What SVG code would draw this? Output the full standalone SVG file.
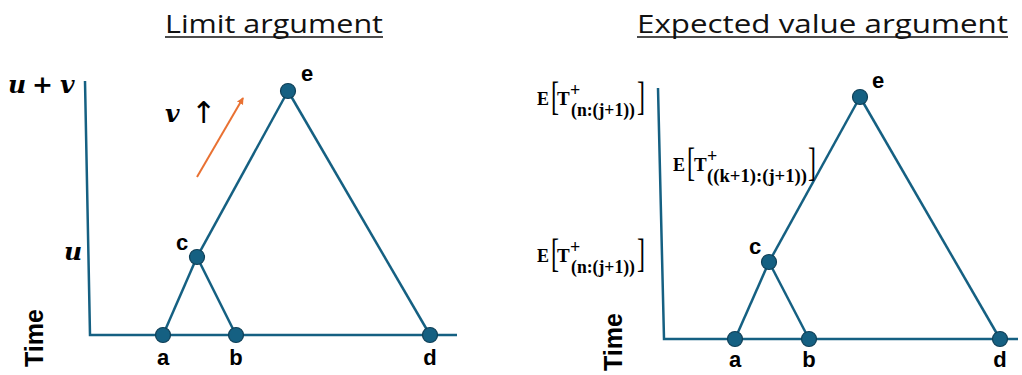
<svg xmlns="http://www.w3.org/2000/svg" width="1022" height="375" viewBox="0 0 1022 375">
  <style>
    .title { font-family: "Open Sans", "Liberation Sans", sans-serif; font-size: 26px; fill: #111; }
    .ul { stroke: #111; stroke-width: 1.5; }
    .axis { stroke: #156082; stroke-width: 2.5; fill: none; }
    .edge { stroke: #156082; stroke-width: 2.5; fill: none; }
    .node { fill: #156082; stroke: #0E3F57; stroke-width: 1.2; }
    .lbl { font-family: "Liberation Sans", Arial, sans-serif; font-weight: bold; font-size: 22px; fill: #000; text-anchor: middle; }
    .time { font-family: "Liberation Sans", Arial, sans-serif; font-weight: bold; font-size: 25px; fill: #000; text-anchor: middle; }
    .math { font-family: "DejaVu Serif", "Liberation Serif", serif; font-weight: bold; font-style: italic; font-size: 25px; fill: #000; }
    .mb { font-family: "Liberation Serif", "DejaVu Serif", serif; font-weight: bold; fill: #000; }
    .br { font-family: "Liberation Serif", "DejaVu Serif", serif; font-size: 40px; fill: #000; }
    .arr { font-family: "DejaVu Sans", sans-serif; font-size: 30px; fill: #000; }
  </style>
  <defs>
    <marker id="oh" markerWidth="8" markerHeight="8" refX="6" refY="4" orient="auto" markerUnits="userSpaceOnUse">
      <path d="M0,0.5 L7,4 L0,7.5 Z" fill="#E97132"/>
    </marker>
  </defs>
  <rect width="1022" height="375" fill="#fff"/>

  <!-- Titles -->
  <g id="title-left">
    <text class="title" x="165" y="33" textLength="218" lengthAdjust="spacingAndGlyphs">Limit argument</text>
    <line class="ul" x1="165" y1="37" x2="383" y2="37"/>
  </g>
  <g id="title-right">
    <text class="title" x="637" y="33" textLength="371" lengthAdjust="spacingAndGlyphs">Expected value argument</text>
    <line class="ul" x1="637" y1="37" x2="1008" y2="37"/>
  </g>

  <!-- Connectors / axes -->
  <g id="connectors">
    <polyline class="axis" points="85,81 90,335 457,335"/>
    <line class="edge" x1="197" y1="257" x2="163" y2="335"/>
    <line class="edge" x1="197" y1="257" x2="236" y2="335"/>
    <line class="edge" x1="197" y1="257" x2="288" y2="91"/>
    <line class="edge" x1="288" y1="91" x2="430" y2="335"/>
    <line x1="197" y1="177" x2="243" y2="98" stroke="#E97132" stroke-width="2" marker-end="url(#oh)"/>

    <polyline class="axis" points="658,88 664,339 1018,339"/>
    <line class="edge" x1="769" y1="262" x2="735" y2="339"/>
    <line class="edge" x1="769" y1="262" x2="809" y2="339"/>
    <line class="edge" x1="769" y1="262" x2="860" y2="97"/>
    <line class="edge" x1="860" y1="97" x2="1000" y2="339"/>
  </g>

  <!-- Left panel nodes -->
  <g id="L-a"><circle class="node" cx="163" cy="335" r="7.5"/><text class="lbl" x="163" y="365">a</text></g>
  <g id="L-b"><circle class="node" cx="236" cy="335" r="7.5"/><text class="lbl" x="236" y="365">b</text></g>
  <g id="L-d"><circle class="node" cx="430" cy="335" r="7.5"/><text class="lbl" x="430" y="365">d</text></g>
  <g id="L-c"><circle class="node" cx="197" cy="257" r="7.5"/><text class="lbl" x="182" y="250">c</text></g>
  <g id="L-e"><circle class="node" cx="288" cy="91" r="7.5"/><text class="lbl" x="307" y="81">e</text></g>

  <!-- Left panel labels -->
  <g id="L-axis-labels">
    <text class="time" transform="translate(43,338) rotate(-90)">Time</text>
    <text class="math" y="93"><tspan x="8">u</tspan><tspan x="32" font-style="normal">+</tspan><tspan x="60">v</tspan></text>
    <text class="math" x="64" y="260">u</text>
    <text class="math" x="165" y="122">v</text>
    <text class="arr" x="191" y="123">↑</text>
  </g>

  <!-- Right panel nodes -->
  <g id="R-a"><circle class="node" cx="735" cy="339" r="7.5"/><text class="lbl" x="735" y="367">a</text></g>
  <g id="R-b"><circle class="node" cx="809" cy="339" r="7.5"/><text class="lbl" x="809" y="367">b</text></g>
  <g id="R-d"><circle class="node" cx="1000" cy="339" r="7.5"/><text class="lbl" x="1000" y="367">d</text></g>
  <g id="R-c"><circle class="node" cx="769" cy="262" r="7.5"/><text class="lbl" x="755" y="254">c</text></g>
  <g id="R-e"><circle class="node" cx="860" cy="97" r="7.5"/><text class="lbl" x="878" y="88">e</text></g>

  <!-- Right panel labels -->
  <g id="R-axis-labels">
    <text class="time" transform="translate(622,342) rotate(-90)">Time</text>

    <g id="E1">
      <text class="mb" x="537" y="105" font-size="18">E</text>
      <text class="br" transform="translate(551,110) scale(0.6,1)">[</text>
      <text class="mb" x="557" y="105" font-size="19">T</text>
      <text class="mb" x="570" y="96" font-size="18">+</text>
      <text class="mb" x="571" y="116" font-size="18" textLength="64" lengthAdjust="spacingAndGlyphs">(n:(j+1))</text>
      <text class="br" transform="translate(637,110) scale(0.6,1)">]</text>
    </g>

    <g id="E2">
      <text class="mb" x="673" y="171" font-size="18">E</text>
      <text class="br" transform="translate(687,176) scale(0.6,1)">[</text>
      <text class="mb" x="694" y="171" font-size="19">T</text>
      <text class="mb" x="707" y="162" font-size="18">+</text>
      <text class="mb" x="707" y="182" font-size="18" textLength="100" lengthAdjust="spacingAndGlyphs">((k+1):(j+1))</text>
      <text class="br" transform="translate(808,176) scale(0.6,1)">]</text>
    </g>

    <g id="E3">
      <text class="mb" x="537" y="262" font-size="18">E</text>
      <text class="br" transform="translate(551,267) scale(0.6,1)">[</text>
      <text class="mb" x="557" y="262" font-size="19">T</text>
      <text class="mb" x="570" y="253" font-size="18">+</text>
      <text class="mb" x="571" y="273" font-size="18" textLength="64" lengthAdjust="spacingAndGlyphs">(n:(j+1))</text>
      <text class="br" transform="translate(637,267) scale(0.6,1)">]</text>
    </g>
  </g>
</svg>
